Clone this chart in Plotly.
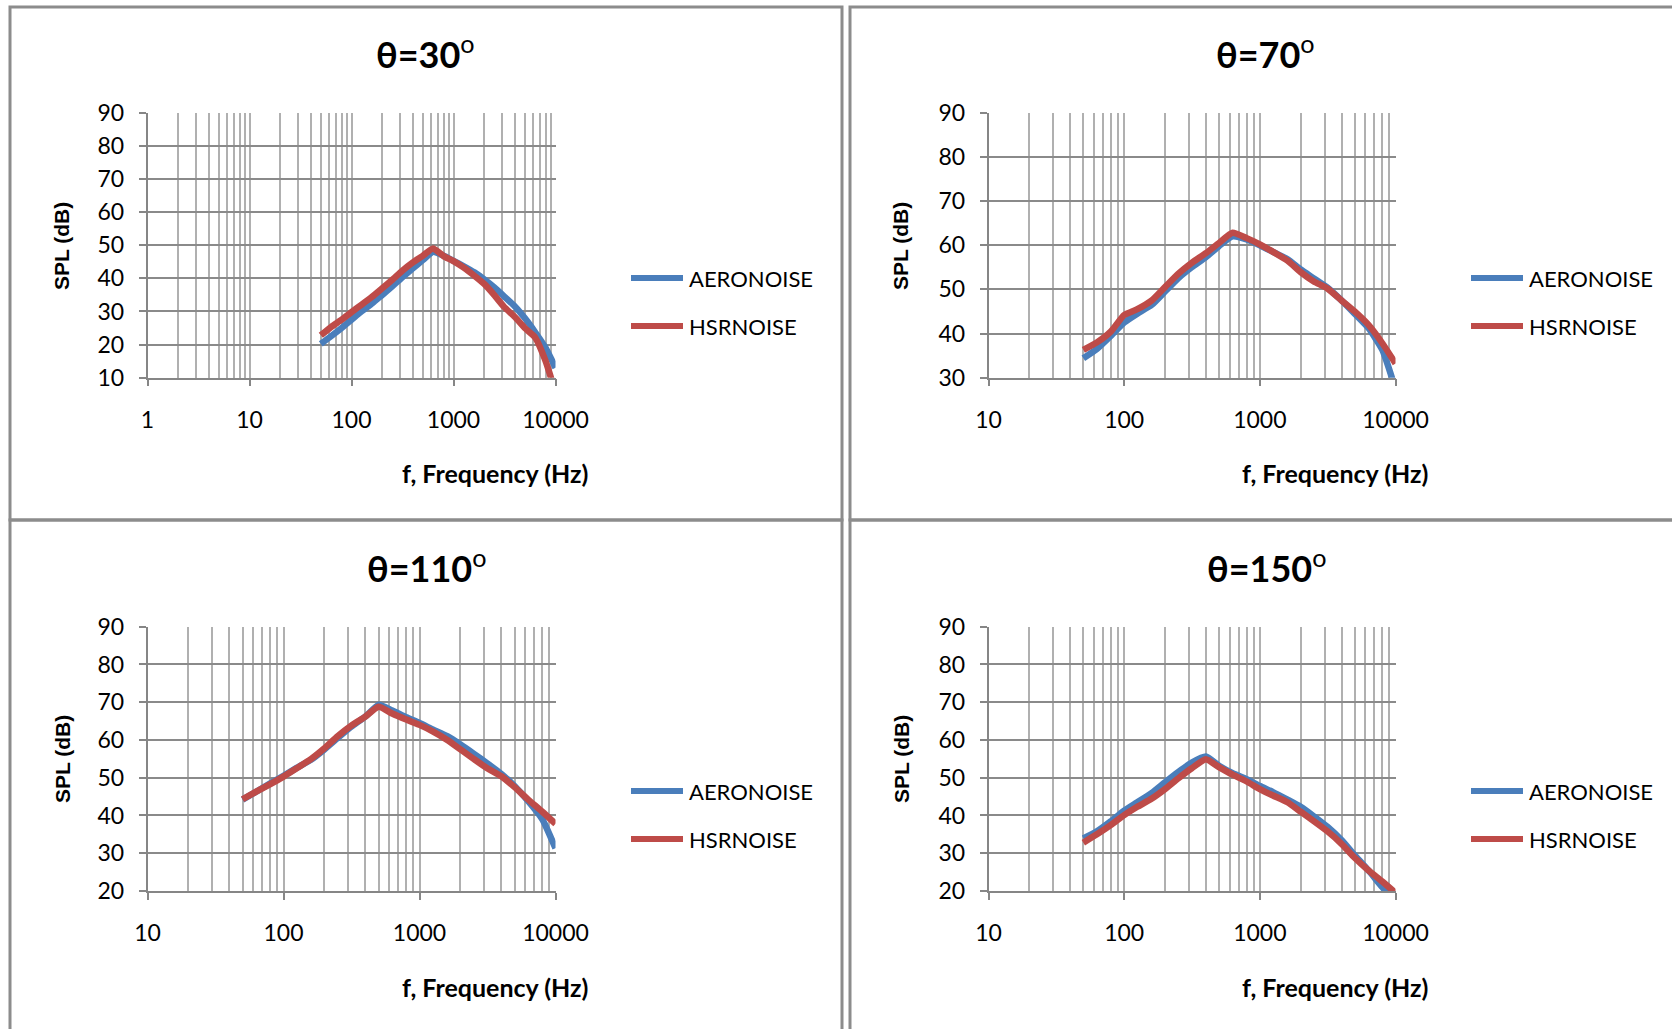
import plotly.graph_objects as go

W, H = 1672, 1029

# One-third octave band centre frequencies (Hz)
FREQ_HZ = [50, 63, 80, 100, 125, 160, 200, 250, 315, 400, 500, 630, 800,
           1000, 1250, 1600, 2000, 2500, 3150, 4000, 5000, 6300, 8000, 10000]

# SPL (dB) per directivity angle
AERO_30 = [20.2, 22.5, 25.0, 27.5, 30.0, 32.5, 35.0, 37.5, 40.3, 43.0, 45.5, 48.0,
           46.8, 45.3, 43.7, 41.8, 39.7, 37.3, 34.5, 31.5, 28.0, 23.8, 19.0, 13.0]
HSR_30 = [22.8, 25.3, 27.5, 29.8, 32.0, 34.5, 37.0, 39.5, 42.3, 44.8, 46.8, 49.0,
          46.7, 45.2, 43.3, 40.8, 38.3, 35.0, 31.3, 28.3, 25.0, 22.2, 15.0, 5.5]

AERO_70 = [34.4, 36.5, 39.5, 42.5, 44.5, 46.5, 49.5, 52.5, 55.0, 57.3, 59.8, 62.0,
           61.3, 60.0, 58.5, 56.8, 54.5, 52.5, 50.4, 47.5, 44.5, 41.3, 36.3, 27.4]
HSR_70 = [36.3, 38.0, 40.5, 44.2, 45.5, 47.5, 50.5, 53.5, 56.0, 58.2, 60.5, 62.8,
          61.6, 60.2, 58.5, 56.5, 53.9, 51.8, 50.2, 47.5, 45.0, 42.0, 37.8, 33.2]

AERO_110 = [44.2, 46.3, 48.5, 50.5, 52.6, 54.8, 57.5, 60.5, 63.5, 66.2, 69.3, 67.8,
            66.0, 64.5, 62.8, 61.0, 58.8, 56.4, 53.8, 51.0, 47.8, 43.8, 39.0, 31.3]
HSR_110 = [44.3, 46.3, 48.3, 50.3, 52.5, 55.0, 57.8, 61.0, 63.8, 66.2, 68.8, 67.0,
           65.4, 64.0, 62.3, 60.0, 57.5, 55.0, 52.5, 50.4, 47.5, 44.2, 41.0, 37.8]

AERO_150 = [33.9, 35.8, 38.5, 41.3, 43.5, 46.0, 48.8, 51.5, 54.0, 55.6, 53.2, 51.2,
            49.6, 47.8, 46.2, 44.2, 42.3, 39.8, 37.0, 33.5, 29.5, 25.5, 21.0, 17.0]
HSR_150 = [32.8, 35.0, 37.5, 40.1, 42.3, 44.5, 47.0, 49.8, 52.5, 54.9, 52.8, 50.8,
           49.0, 47.0, 45.3, 43.5, 41.0, 38.5, 35.8, 32.5, 28.8, 25.5, 22.5, 19.5]

ANGLES = ["30", "70", "110", "150"]
SERIES_AERO = [AERO_30, AERO_70, AERO_110, AERO_150]
SERIES_HSR = [HSR_30, HSR_70, HSR_110, HSR_150]
Y_RANGES = [(10, 90), (30, 90), (20, 90), (20, 90)]
X_TICKS = [[1, 10, 100, 1000, 10000],
           [10, 100, 1000, 10000],
           [10, 100, 1000, 10000],
           [10, 100, 1000, 10000]]
LEGEND_NAMES = ["AERONOISE", "HSRNOISE"]

BLUE = "#4A7EBB"
RED = "#BE4B48"
GRID_Y = "#8A8A8A"
GRID_X = "#B0B0B0"
AXIS_C = "#868686"
BORDER = "#8C8C8C"
FONT = "Lato"


def fx(p):
    return p / W


def fy(p):
    return 1 - p / H


# pixel layout of each panel: plot-area box and text anchors
panels = [
    dict(x0=147.5, x1=555.5, y0=112.7, y1=377.7, tx=425, ty=52,
         ax=(495, 473), ay=(62, 246), lx=631, ly=(278, 326)),
    dict(x0=988.5, x1=1395.5, y0=112.7, y1=377.7, tx=1265, ty=52,
         ax=(1335, 473), ay=(901, 246), lx=1471, ly=(278, 326)),
    dict(x0=147.5, x1=555.5, y0=626.7, y1=891.0, tx=427, ty=566,
         ax=(495, 987), ay=(62, 759), lx=631, ly=(791, 839)),
    dict(x0=988.5, x1=1395.5, y0=626.7, y1=891.0, tx=1267, ty=566,
         ax=(1335, 987), ay=(901, 759), lx=1471, ly=(791, 839)),
]

fig = go.Figure()
layout = dict(
    width=W, height=H, autosize=False,
    margin=dict(l=0, r=0, t=0, b=0, pad=0, autoexpand=False),
    paper_bgcolor="white", plot_bgcolor="white",
    showlegend=False,
)
shapes = []
annotations = []

for i, p in enumerate(panels):
    n = "" if i == 0 else str(i + 1)
    xa, ya = "x" + n, "y" + n
    for vals, color in ((SERIES_AERO[i], BLUE), (SERIES_HSR[i], RED)):
        fig.add_trace(go.Scatter(
            x=FREQ_HZ, y=vals, mode="lines", xaxis=xa, yaxis=ya,
            line=dict(color=color, width=6.5, shape="spline", smoothing=0.5),
            hoverinfo="skip", showlegend=False))

    ticks = X_TICKS[i]
    lo = len(str(ticks[0])) - 1
    minor_vals = [m * 10 ** k for k in range(lo, 4) for m in range(2, 10)]
    layout["xaxis" + n] = dict(
        domain=[fx(p["x0"]), fx(p["x1"])], anchor=ya, type="log",
        range=[lo, 4], tickvals=ticks, ticktext=[str(t) for t in ticks],
        ticks="outside", ticklen=7, tickwidth=1.5, tickcolor=AXIS_C,
        showline=True, linecolor=AXIS_C, linewidth=1.5,
        showgrid=True, gridcolor=GRID_X, gridwidth=1.5,
        minor=dict(tickvals=minor_vals, showgrid=True, gridcolor=GRID_X,
                   gridwidth=1.5, ticks=""),
        tickfont=dict(family=FONT, size=23, color="black"),
        ticklabelstandoff=14, zeroline=False, fixedrange=True,
        automargin=False)
    ymin, ymax = Y_RANGES[i]
    layout["yaxis" + n] = dict(
        domain=[fy(p["y1"]), fy(p["y0"])], anchor=xa,
        range=[ymin, ymax], tick0=0, dtick=10,
        ticks="outside", ticklen=7, tickwidth=1.5, tickcolor=AXIS_C,
        showline=True, linecolor=AXIS_C, linewidth=1.5,
        showgrid=True, gridcolor=GRID_Y, gridwidth=1.5,
        tickfont=dict(family=FONT, size=23, color="black"),
        ticklabelstandoff=10, zeroline=False, fixedrange=True,
        automargin=False)

    # panel title with a light superscript degree ring
    annotations.append(dict(
        text="θ=" + ANGLES[i]
             + "<span style='font-weight:normal'><sup>o</sup></span>",
        x=fx(p["tx"]), y=fy(p["ty"]),
        xref="paper", yref="paper", showarrow=False,
        xanchor="center", yanchor="middle",
        font=dict(family=FONT, size=36, color="black", weight="bold")))
    # axis titles
    annotations.append(dict(
        text="f, Frequency (Hz)", x=fx(p["ax"][0]), y=fy(p["ax"][1]),
        xref="paper", yref="paper", showarrow=False,
        xanchor="center", yanchor="middle",
        font=dict(family=FONT, size=25, color="black", weight="bold")))
    annotations.append(dict(
        text="SPL (dB)", x=fx(p["ay"][0]), y=fy(p["ay"][1]), textangle=-90,
        xref="paper", yref="paper", showarrow=False,
        xanchor="center", yanchor="middle",
        font=dict(family="Liberation Sans", size=21, color="black",
                  weight="bold")))
    # legend entries
    for name, color, ly in zip(LEGEND_NAMES, (BLUE, RED), p["ly"]):
        shapes.append(dict(
            type="line", xref="paper", yref="paper",
            x0=fx(p["lx"]), x1=fx(p["lx"] + 52), y0=fy(ly), y1=fy(ly),
            line=dict(color=color, width=6)))
        annotations.append(dict(
            text=name, x=fx(p["lx"] + 56), y=fy(ly),
            xref="paper", yref="paper", showarrow=False,
            xanchor="left", yanchor="middle",
            font=dict(family=FONT, size=22, color="black")))

# chart frames around each panel
for (x0, y0, x1, y1) in [(10, 7, 842, 520), (850, 7, 1690, 520),
                         (10, 520, 842, 1045), (850, 520, 1690, 1045)]:
    shapes.append(dict(
        type="rect", xref="paper", yref="paper",
        x0=fx(x0), x1=fx(x1), y0=fy(y1), y1=fy(y0),
        line=dict(color=BORDER, width=3), fillcolor="rgba(0,0,0,0)",
        layer="below"))

layout["shapes"] = shapes
layout["annotations"] = annotations
fig.update_layout(**layout)
fig.write_html("out.html")
